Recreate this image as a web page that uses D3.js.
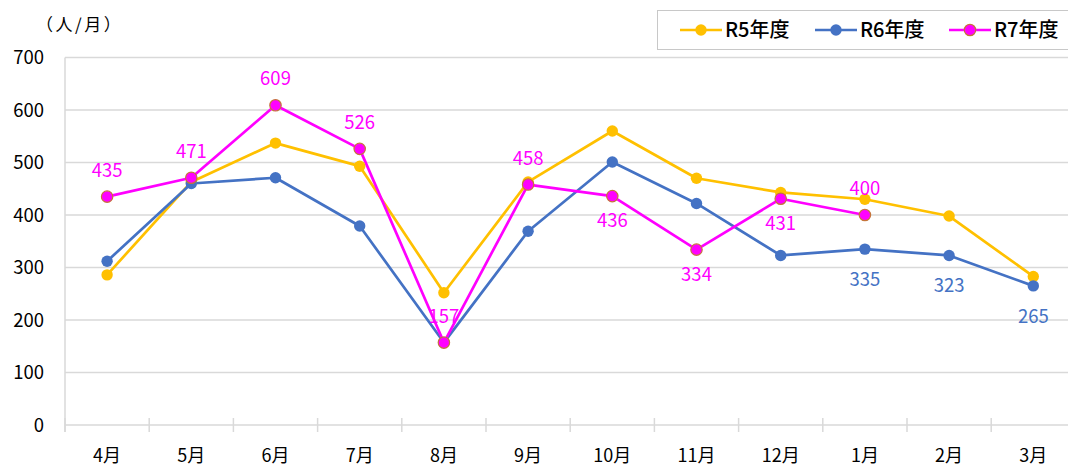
<!DOCTYPE html>
<html><head><meta charset="utf-8">
<script src="https://cdn.jsdelivr.net/npm/d3@7"></script>
<style>
body{margin:0;background:#fff;}
svg{display:block;font-family:"Noto Sans CJK JP","Noto Sans",sans-serif;}
</style></head>
<body><svg id="c" width="1068" height="466"></svg>
<script>
const months = ["4月","5月","6月","7月","8月","9月","10月","11月","12月","1月","2月","3月"];
const yTicks = [0,100,200,300,400,500,600,700];
const r5 = [286,463,537,493,252,463,560,470,443,430,398,283];
const r6 = [312,460,471,379,157,369,501,422,323,335,323,265];
const r7 = [435,471,609,526,157,458,436,334,431,400];
const seriesNames = ["R5年度","R6年度","R7年度"];
const colors = ["#FFC000","#4472C4","#FF00FF"];
const r7LabelPos = ["above","above","above","above","above","above","below","below","below","above"];
const r6Labeled = [9,10,11];

(function(){
const svg = d3.select("#c");
const pL = 65, pR = 1075.4, pT = 57.5, pB = 425;
const x = d3.scaleBand().domain(months).range([pL,pR]);
const y = d3.scaleLinear().domain([0,700]).range([pB,pT]);
const grid = "#d9d9d9";

svg.append("g").selectAll("line").data(yTicks.filter(d=>d>0)).join("line")
  .attr("x1",pL).attr("x2",pR).attr("y1",d=>y(d)).attr("y2",d=>y(d))
  .attr("stroke",grid).attr("stroke-width",1.3);

svg.append("line").attr("x1",pL).attr("x2",pR).attr("y1",pB).attr("y2",pB)
  .attr("stroke",grid).attr("stroke-width",1.5);
svg.append("line").attr("x1",pL).attr("x2",pL).attr("y1",pT).attr("y2",pB+7)
  .attr("stroke",grid).attr("stroke-width",1.5);
const bounds = months.map(m=>x(m)).concat([pR]);
svg.append("g").selectAll("line").data(bounds).join("line")
  .attr("x1",d=>d).attr("x2",d=>d).attr("y1",pB-7).attr("y2",pB+7)
  .attr("stroke",grid).attr("stroke-width",1.5);
svg.append("g").selectAll("text").data(months).join("text")
  .attr("x",d=>x(d)+x.bandwidth()/2).attr("y",462)
  .attr("text-anchor","middle").attr("font-size",18).attr("fill","#000").text(d=>d);

svg.append("g").selectAll("text").data(yTicks).join("text")
  .attr("x",44).attr("y",d=>y(d)+6.5).attr("text-anchor","end")
  .attr("font-size",18.5).attr("fill","#000").text(d=>d);

svg.append("text").attr("x",36).attr("y",31).attr("font-size",17).attr("letter-spacing",2.5).attr("fill","#000").text("（人/月）");

const cx = i => x(months[i]) + x.bandwidth()/2;
const line = d3.line().x((d,i)=>cx(i)).y(d=>y(d));
const all = [r5,r6,r7];
all.forEach((data,s)=>{
  svg.append("path").datum(data).attr("d",line).attr("fill","none")
    .attr("stroke",colors[s]).attr("stroke-width",2.7).attr("stroke-linejoin","round");
});
all.forEach((data,s)=>{
  svg.append("g").selectAll("circle").data(data).join("circle")
    .attr("cx",(d,i)=>cx(i)).attr("cy",d=>y(d)).attr("r",5.7)
    .attr("fill",colors[s])
    .attr("stroke",s===2?"#c5753a":colors[s]).attr("stroke-width",s===2?1.2:0);
});

const lab = svg.append("g").attr("font-size",18.5).attr("text-anchor","middle");
r7.forEach((d,i)=>{
  const above = r7LabelPos[i]==="above";
  lab.append("text").attr("x",cx(i)).attr("y",above? y(d)-20 : y(d)+31)
    .attr("fill","#FF00FF").text(d);
});
r6Labeled.forEach(i=>{
  lab.append("text").attr("x",cx(i)).attr("y",y(r6[i])+37).attr("fill","#4472C4").text(r6[i]);
});

const lg = svg.append("g");
lg.append("rect").attr("x",657.5).attr("y",10.5).attr("width",430).attr("height",39)
  .attr("fill","#fff").attr("stroke","#c8c8c8").attr("stroke-width",1);
const lx = [680,815,949];
seriesNames.forEach((n,s)=>{
  lg.append("line").attr("x1",lx[s]).attr("x2",lx[s]+42).attr("y1",30).attr("y2",30)
    .attr("stroke",colors[s]).attr("stroke-width",2.7);
  lg.append("circle").attr("cx",lx[s]+21).attr("cy",30).attr("r",5.7).attr("fill",colors[s])
    .attr("stroke",s===2?"#c5753a":colors[s]).attr("stroke-width",s===2?1.2:0);
  lg.append("text").attr("x",lx[s]+45).attr("y",37).attr("font-size",20).attr("font-weight",500).attr("fill","#000").text(n);
});
})();
</script></body></html>
